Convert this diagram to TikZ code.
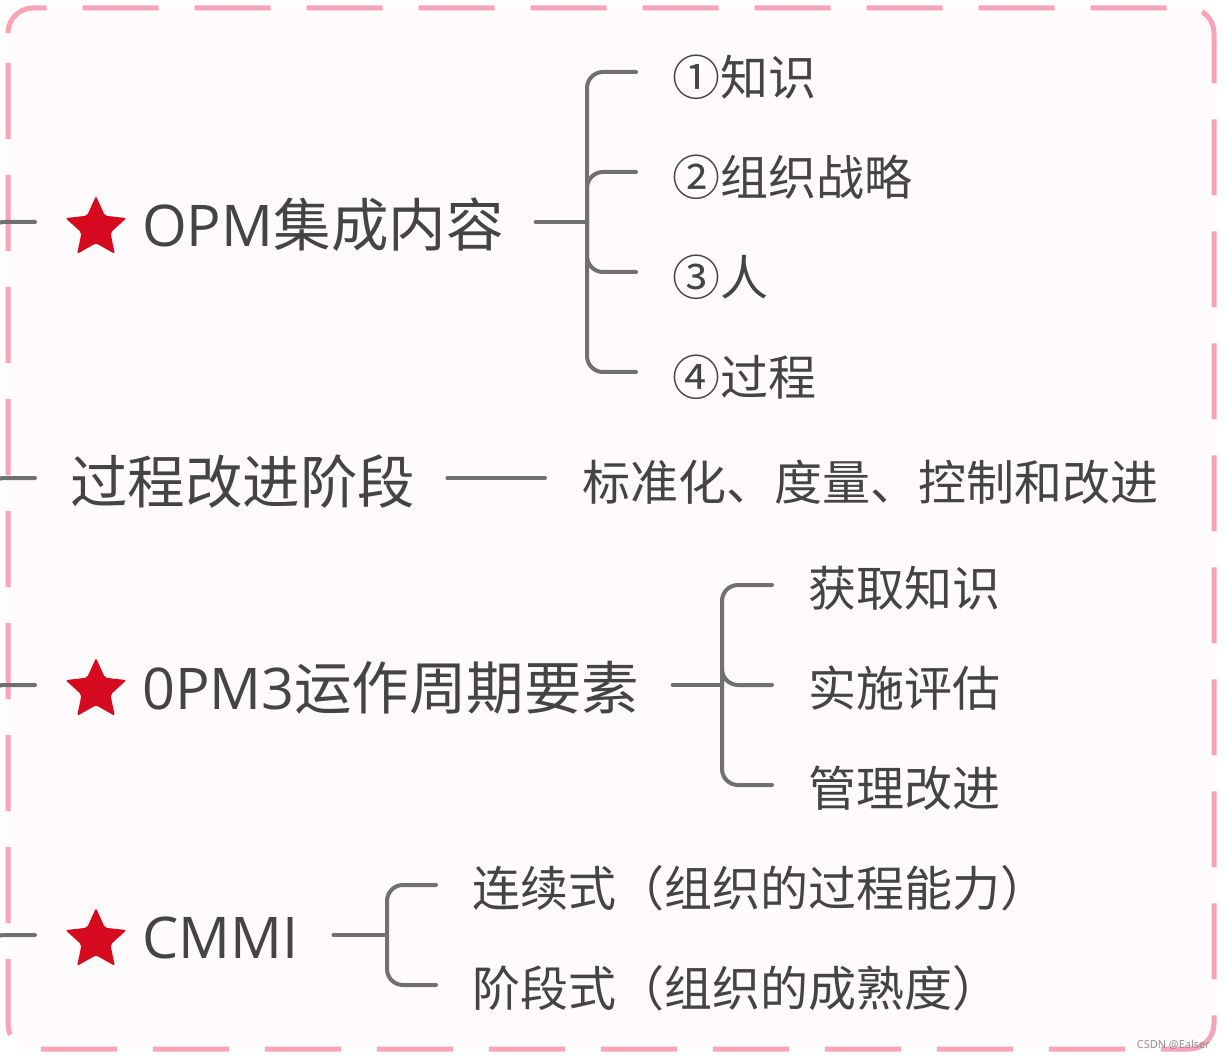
\documentclass[tikz,border=0pt]{standalone}
\usepackage{fontspec}
\usepackage{tikz}
\usetikzlibrary{shapes.geometric,calc}
\newfontfamily\cjk{Noto Sans CJK SC}
\newfontfamily\lat{Open Sans}
\definecolor{FramePink}{RGB}{246,164,182}
\definecolor{PaperPink}{RGB}{255,251,252}
\definecolor{InkGray}{RGB}{68,68,68}
\definecolor{LinkGray}{RGB}{112,112,112}
\definecolor{StarRed}{RGB}{214,10,30}

\begin{document}
\begin{tikzpicture}[x=1pt, y=-1pt,
    topic/.style={anchor=west, inner sep=0pt, text=InkGray, font=\cjk\fontsize{57.5}{60}\selectfont},
    leaf/.style={anchor=west, inner sep=0pt, text=InkGray, font=\cjk\fontsize{48}{50}\selectfont},
    link/.style={draw=LinkGray, line width=4pt, line cap=round, rounded corners=16pt},
    redstar/.style={star, star points=5, star point ratio=2.1, fill=StarRed, minimum size=64pt, inner sep=0pt, rounded corners=2pt}]

  \useasboundingbox (0,0) rectangle (1224,1059);
  % khung
  \draw[FramePink, fill=PaperPink, line width=5pt, dash pattern=on 76pt off 36pt, dash phase=-30pt, rounded corners=25pt] (8,8) rectangle (1214,1049);

  % OPM集成内容
  \node[redstar] (s1) at (96,228) {};
  \node[topic] (m1) at (142,225) {{\lat OPM}集成内容};
  \node[leaf] (k1) at (672,77) {①知识};
  \node[leaf] (k2) at (672,177) {②组织战略};
  \node[leaf] (k3) at (672,277) {③人};
  \node[leaf] (k4) at (672,377) {④过程};
  \coordinate (j1) at (587,222);
  \coordinate (o1) at (-12,262);
  \coordinate (t1) at (35,222);
  \draw[link] (o1) |- (t1);
  \draw[link] ([xshift=32pt,yshift=3pt]m1.east) -- (j1);
  \foreach \k in {k1,k2,k3,k4}
    \draw[link] (j1) |- ([xshift=-36pt,yshift=5pt]\k.west);

  % 过程改进阶段
  \node[topic] (m2) at (70,482) {过程改进阶段};
  \node[leaf] (r2) at (582,482) {标准化、度量、控制和改进};
  \coordinate (o2) at (-12,518);
  \coordinate (t2) at (35,478);
  \draw[link] (o2) |- (t2);
  \draw[link] ([xshift=32pt,yshift=4pt]m2.east) -- ([xshift=-37pt,yshift=4pt]r2.west);

  % 0PM3运作周期要素
  \node[redstar] (s3) at (96,690) {};
  \node[topic] (m3) at (142,688) {{\lat 0PM3}运作周期要素};
  \node[leaf] (p1) at (808,588) {获取知识};
  \node[leaf] (p2) at (808,688) {实施评估};
  \node[leaf] (p3) at (808,788) {管理改进};
  \coordinate (j3) at (722,685);
  \coordinate (o3) at (-12,725);
  \coordinate (t3) at (35,685);
  \draw[link] (o3) |- (t3);
  \draw[link] ([xshift=33pt,yshift=3pt]m3.east) -- (j3);
  \foreach \k in {p1,p2,p3}
    \draw[link] (j3) |- ([xshift=-36pt,yshift=3pt]\k.west);

  % CMMI
  \node[redstar] (s4) at (96,940) {};
  \node[topic] (m4) at (142,938) {{\lat CMMI}};
  \node[leaf] (c1) at (472,888) {连续式（组织的过程能力）};
  \node[leaf] (c2) at (472,988) {阶段式（组织的成熟度）};
  \coordinate (j4) at (387,935);
  \coordinate (o4) at (-12,975);
  \coordinate (t4) at (35,935);
  \draw[link] (o4) |- (t4);
  \draw[link] ([xshift=35pt,yshift=3pt]m4.east) -- (j4);
  \foreach \k in {c1,c2}
    \draw[link] (j4) |- ([xshift=-36pt,yshift=3pt]\k.west);

  \node[anchor=east, inner sep=0pt, text=black!45, font=\lat\fontsize{11}{12}\selectfont] (wm) at (1210,1045) {CSDN @Ealser};
\end{tikzpicture}
\end{document}
